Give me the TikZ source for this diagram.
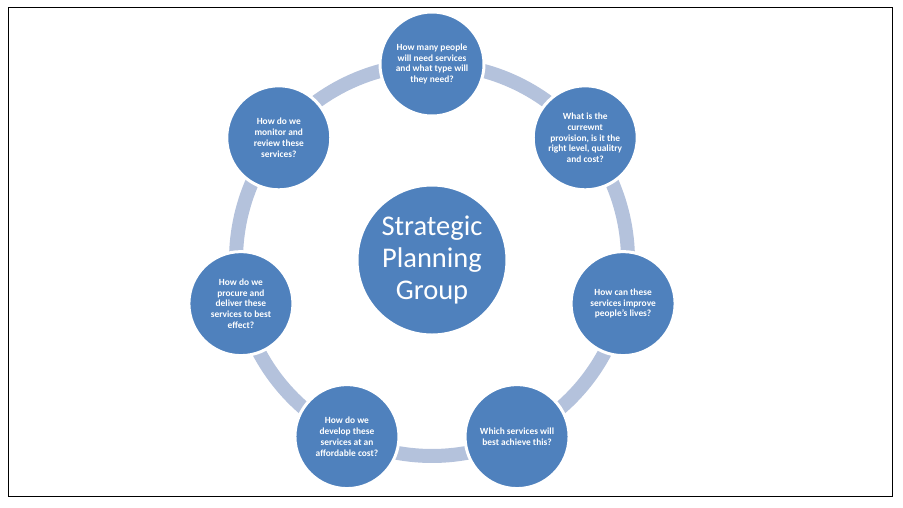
\documentclass[tikz,border=0pt]{standalone}
\usepackage{fontspec}
\setmainfont{Carlito}
\usetikzlibrary{calc}
\definecolor{ringblue}{HTML}{4F81BD}
\definecolor{ringlight}{HTML}{B4C2DC}
\tikzset{
  qcircle/.style={circle, fill=ringblue, draw=white, line width=3pt, minimum size=104pt, inner sep=0pt,
    text=white, align=center, font=\fontsize{9.4}{10.8}\selectfont\bfseries},
  hubcircle/.style={circle, fill=ringblue, draw=white, line width=3pt, minimum size=150pt, inner sep=0pt,
    text=white, align=center, font=\fontsize{28.5}{32}\selectfont},
  ringarc/.style={draw=ringlight, line width=14pt},
  frame/.style={draw=black, line width=1pt}
}
\begin{document}
\begin{tikzpicture}[x=1pt,y=-1pt]
\useasboundingbox (0,0) rectangle (903,507);
\draw[frame] (8,7) rectangle (892,496);
\coordinate (c) at (432,260);
% positions on ring
\foreach \k in {1,...,7}{
  \coordinate (p\k) at ($(c)+({90-(\k-1)*360/7}:196pt)$);
}
% arcs between consecutive circles
\foreach \k/\j in {1/2,2/3,3/4,4/5,5/6,6/7,7/1}{
  \draw[ringarc] (p\k) arc[start angle={90-(\k-1)*360/7}, delta angle={-360/7}, radius=196pt];
}
\node[hubcircle] (hub) at (c) {Strategic\\Planning\\Group};
\node[qcircle] (n1) at (p1) {How many people\\will need services\\and what type will\\they need?};
\node[qcircle] (n2) at (p2) {What is the\\currewnt\\provision, is it the\\right level, qualitry\\and cost?};
\node[qcircle] (n3) at (p3) {How can these\\services improve\\people's lives?};
\node[qcircle] (n4) at (p4) {Which services will\\best achieve this?};
\node[qcircle] (n5) at (p5) {How do we\\develop these\\services at an\\affordable cost?};
\node[qcircle] (n6) at (p6) {How do we\\procure and\\deliver these\\services to best\\effect?};
\node[qcircle] (n7) at (p7) {How do we\\monitor and\\review these\\services?};
\end{tikzpicture}
\end{document}
